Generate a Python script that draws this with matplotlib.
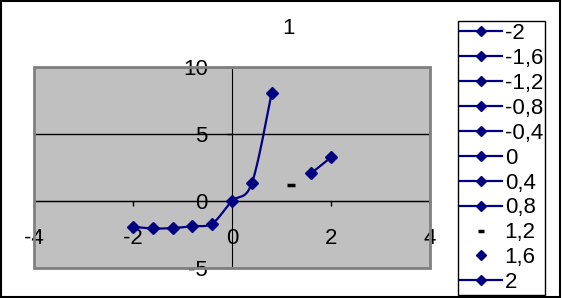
import numpy as np
import matplotlib
matplotlib.use("Agg")
import matplotlib.pyplot as plt
from matplotlib.lines import Line2D
from matplotlib.patches import Rectangle

plt.rcParams['font.family'] = ['Liberation Sans', 'DejaVu Sans']
plt.rcParams['axes.unicode_minus'] = False

# data
x_main = [-2, -1.6, -1.2, -0.8, -0.4, 0, 0.4, 0.8]
y_main = [-1.92, -2.05, -2.02, -1.88, -1.68, 0.0, 1.32, 8.04]
x_dash = [1.2]
y_dash = [1.19]
x_end = [1.6, 2]
y_end = [2.07, 3.26]
legend_labels = ["-2", "-1,6", "-1,2", "-0,8", "-0,4", "0", "0,4", "0,8", "1,2", "1,6", "2"]

navy = "#000080"


def smooth(xs, ys, n=30):
    # excel-like bezier smoothing through the points
    p = np.column_stack([xs, ys]).astype(float)
    out = []
    for i in range(len(p) - 1):
        p0 = p[i - 1] if i > 0 else p[i]
        p1 = p[i]
        p2 = p[i + 1]
        p3 = p[i + 2] if i + 2 < len(p) else p[i + 1]
        c1 = p1 + (p2 - p0) / 6
        c2 = p2 - (p3 - p1) / 6
        t = np.linspace(0, 1, n)[:, None]
        seg = (1 - t) ** 3 * p1 + 3 * (1 - t) ** 2 * t * c1 + 3 * (1 - t) * t ** 2 * c2 + t ** 3 * p2
        out.append(seg)
    out = np.vstack(out)
    return out[:, 0], out[:, 1]


fig = plt.figure(figsize=(5.62, 2.98), dpi=100)
ax = fig.add_axes([34 / 562, 30 / 298, 396 / 562, 201 / 298])
ax.set_facecolor("#C0C0C0")

sx, sy = smooth(x_main, y_main)
ax.plot(sx, sy, color=navy, lw=1.6, zorder=3)
ax.plot(x_main, y_main, ls="none", marker="D", ms=6, color=navy, zorder=4)
ax.plot(x_dash, y_dash, ls="none", marker="_", ms=6, mew=2.5, color="black", zorder=4)
ax.plot(x_end, y_end, color=navy, lw=1.6, marker="D", ms=6, zorder=4)

ax.set_xlim(-4, 4)
ax.set_ylim(-5, 10)
ax.set_xticks([-4, -2, 0, 2, 4])
ax.set_yticks([-5, 0, 5, 10])
ax.spines['left'].set_position('zero')
ax.spines['bottom'].set_position('zero')
ax.spines['right'].set_visible(False)
ax.spines['top'].set_visible(False)
ax.spines['left'].set_zorder(2.5)
ax.spines['bottom'].set_zorder(2.5)
ax.tick_params(direction='out', length=3.5, width=1, labelsize=16)
ax.tick_params(axis='x', pad=16)
ax.tick_params(axis='y', pad=14)
ax.yaxis.grid(True, color='black', lw=1)
ax.set_axisbelow(True)
ax.add_patch(Rectangle((0, 0), 1, 1, transform=ax.transAxes, fill=False,
                       edgecolor="#808080", lw=2, zorder=2.6, clip_on=False))

fig.text(288 / 562, 1 - 29 / 298, "1", fontsize=16, ha="center", va="center")

handles = []
for lab in legend_labels:
    if lab == "1,2":
        h = Line2D([], [], ls="none", marker="_", ms=5, mew=2.5, color="black")
    elif lab == "1,6":
        h = Line2D([], [], ls="none", marker="D", ms=5, color=navy)
    else:
        h = Line2D([], [], color=navy, lw=1.6, marker="D", ms=5)
    handles.append(h)

leg = fig.legend(handles, legend_labels, loc="upper left",
                 bbox_to_anchor=(458 / 562, 1 - 21 / 298),
                 fontsize=16, frameon=True, fancybox=False,
                 edgecolor="black", framealpha=1, handlelength=1.9,
                 handletextpad=0.1, labelspacing=0.175, borderpad=0.1,
                 borderaxespad=0)
leg.get_frame().set_linewidth(1)

fig.patches.append(Rectangle((0.002, 0.005), 0.994, 0.99, transform=fig.transFigure,
                             fill=False, edgecolor="black", lw=1.5))

fig.savefig("out.png", dpi=100)
